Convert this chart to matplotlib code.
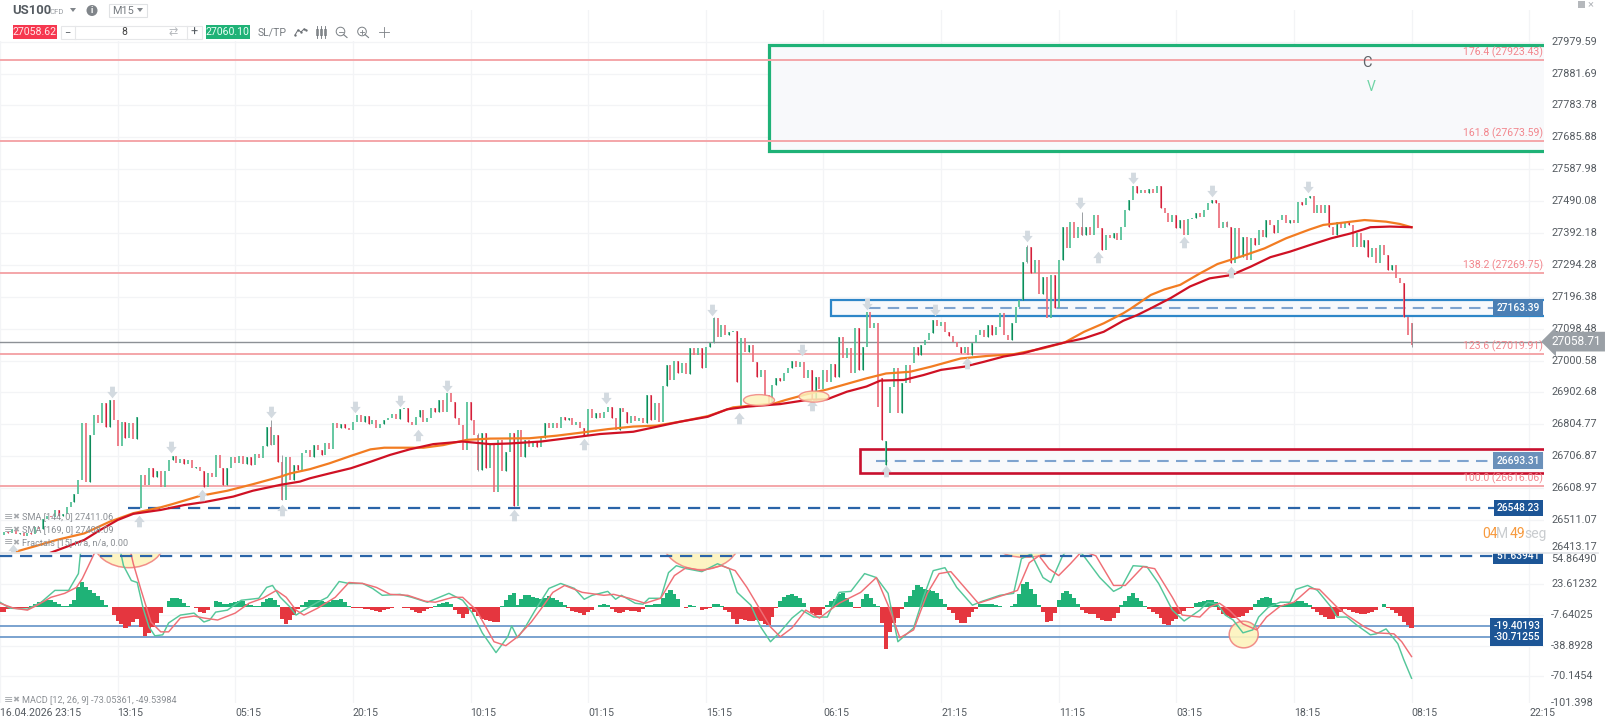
import matplotlib
matplotlib.use("Agg")
import matplotlib.pyplot as plt
import numpy as np
from matplotlib.patches import Ellipse, Rectangle, Polygon, Circle

plt.rcParams['font.family'] = ['Roboto', 'DejaVu Sans']

# closes sampled every second M15 bar
close_a = [26465, 26475, 26470, 26482, 26468, 26472, 26462, 26472, 26468, 26489, 26482, 26513,
           26523, 26519, 26542, 26523, 26530, 26550, 26567, 26591, 26634, 26808, 26629, 26772,
           26833, 26808, 26869, 26798, 26878, 26818, 26738, 26813, 26762, 26808, 26759, 26826,
           26649, 26619, 26670, 26644, 26660, 26613, 26660, 26695, 26708, 26687, 26697, 26683,
           26695, 26670, 26675, 26660, 26613, 26654, 26644, 26711, 26670, 26619, 26670, 26703,
           26687, 26708, 26683, 26703, 26680, 26714, 26700, 26738, 26798, 26741, 26772, 26690,
           26571, 26706, 26634, 26680, 26665]
close_b = [26716, 26726, 26706, 26741, 26726, 26711, 26746, 26728, 26810, 26793, 26806, 26793,
           26787, 26813, 26833, 26813, 26830, 26806, 26818, 26793, 26806, 26818, 26823, 26836,
           26820, 26851, 26854, 26813, 26803, 26828, 26849, 26813, 26823, 26854, 26844, 26880,
           26844, 26900, 26874, 26823, 26803, 26726, 26874, 26818, 26772, 26665, 26777, 26670,
           26741, 26598, 26757, 26660, 26721, 26777, 26554, 26787, 26706, 26757, 26736, 26755,
           26736, 26762, 26810, 26793, 26808, 26793, 26828, 26818, 26823, 26803, 26813, 26793,
           26772, 26851]
close_c = [26823, 26839, 26823, 26844, 26859, 26823, 26787, 26854, 26844, 26808, 26831, 26816,
           26823, 26808, 26895, 26818, 26869, 26813, 26921, 26987, 26941, 27000, 26961, 26992,
           26959, 27038, 27018, 27038, 26977, 27043, 27056, 27130, 27074, 27110, 27079, 27089,
           27092, 26936, 27069, 27028, 27048, 26997, 26951, 26972, 26895, 26869, 26926, 26946,
           26939, 26961, 26977, 27000, 26980, 26997, 26946, 26972, 26880, 26951, 26912, 26972,
           26936, 26990, 26949, 27074, 27008, 27038, 26961, 27100, 26972, 27043, 27151, 27100,
           27115, 26859]
close_d = [26757, 26755, 26920, 26977, 26839, 26931, 26987, 26931, 27043, 27018, 27048, 27064,
           27084, 27125, 27107, 27120, 27089, 27076, 27059, 27043, 27023, 27043, 27018, 27054,
           27079, 27095, 27074, 27110, 27079, 27105, 27146, 27079, 27064, 27115, 27166, 27187,
           27304, 27348, 27268, 27309, 27205, 27258, 27130, 27263, 27161, 27309, 27412, 27345,
           27427, 27376, 27412, 27386, 27412, 27386, 27448, 27407, 27340, 27386, 27376, 27391,
           27371, 27412, 27463, 27494, 27537, 27514, 27524, 27514, 27526, 27516, 27535]
close_e = [27468, 27453, 27427, 27448, 27407, 27432, 27386, 27434, 27437, 27453, 27442, 27463,
           27483, 27494, 27483, 27407, 27427, 27412, 27299, 27407, 27320, 27381, 27309, 27376,
           27355, 27401, 27381, 27432, 27417, 27391, 27432, 27448, 27422, 27432, 27422, 27488,
           27478, 27499, 27506, 27453, 27478, 27453, 27478, 27412, 27386, 27427, 27407, 27427,
           27417, 27350, 27391, 27350, 27371, 27320, 27345, 27299, 27355, 27325, 27279, 27294,
           27253, 27238, 27135, 27079, 27048]
bar_close = close_a + close_b + close_c + close_d + close_e

# bars whose open does not sit on the previous close
gap_bars = [36, 189, 225, 226, 227, 233, 360]
gap_opens = [26547, 26859, 26946, 26680, 26839, 26992, 27117]
wick_bars = [69, 72, 122, 182, 262, 276, 313, 360]
wick_highs = [26818, 26711, 26777, 27133, 27355, 27458, 27430, 27117]
wick_lows = [26741, 26571, 26660, 27056, 27300, 27386, 27412, 27043]

sma144_x = [7, 17, 29, 43, 56, 68, 82, 88, 102, 116, 129, 143, 148, 158, 168, 179, 189, 196, 216, 226, 238,
            250, 270, 284, 296, 310, 323, 335, 347, 361, 374, 395, 401, 412, 422, 432, 442, 452, 464, 475,
            490, 504, 517, 532, 543, 553, 563, 573, 577, 587, 594, 602, 612, 621, 634, 645, 656, 668, 675,
            685, 696, 707, 714, 720]
sma144_y = [26412, 26429, 26450, 26470, 26506, 26532, 26550, 26560, 26585, 26601, 26621, 26644, 26654, 26667,
            26685, 26708, 26728, 26733, 26733, 26741, 26757, 26761, 26762, 26770, 26779, 26790, 26798, 26801,
            26813, 26830, 26857, 26869, 26880, 26898, 26912, 26929, 26946, 26961, 26966, 26982, 27007, 27015,
            27020, 27038, 27056, 27089, 27115, 27146, 27161, 27202, 27219, 27233, 27268, 27297, 27322, 27345,
            27376, 27403, 27417, 27424, 27432, 27427, 27420, 27410]
sma169_x = [26, 34, 43, 51, 60, 68, 82, 94, 105, 119, 129, 143, 153, 158, 168, 179, 189, 199, 209, 221, 236,
            250, 260, 276, 293, 306, 323, 337, 347, 361, 371, 381, 398, 412, 422, 432, 442, 449, 461, 471,
            480, 492, 502, 512, 522, 532, 543, 553, 563, 573, 580, 587, 597, 607, 617, 628, 638, 648, 658,
            668, 679, 689, 699, 709, 720]
sma169_y = [26411, 26429, 26450, 26480, 26511, 26530, 26542, 26557, 26567, 26583, 26601, 26619, 26629, 26639,
            26654, 26670, 26690, 26711, 26728, 26744, 26752, 26744, 26746, 26752, 26765, 26775, 26782, 26800,
            26813, 26828, 26851, 26859, 26867, 26880, 26882, 26905, 26921, 26939, 26941, 26956, 26972, 26982,
            26997, 27013, 27023, 27040, 27056, 27069, 27089, 27123, 27140, 27161, 27192, 27228, 27253, 27263,
            27289, 27318, 27335, 27355, 27376, 27391, 27410, 27412, 27410]

fract_down_x = [57, 87, 138, 181, 204, 228, 309, 363, 409, 442, 477, 524, 551, 578, 618, 667]
fract_down_y = [26905, 26734, 26844, 26858, 26877, 26923, 26886, 27156, 27033, 27174, 27156, 27384, 27484,
                27561, 27521, 27534]
fract_up_x = [6.5, 71, 103, 144, 213, 262, 298, 377, 414, 452, 493, 560, 604, 628]
fract_up_y = [26419, 26509, 26588, 26542, 26772, 26527, 26744, 26824, 26864, 26660, 26993, 27319, 27366, 27274]

fib_levels = [27923.43, 27673.59, 27269.75, 27019.91, 26616.06]
fib_labels = ['176.4 (27923.43)', '161.8 (27673.59)', '138.2 (27269.75)', '123.6 (27019.91)', '100.0 (26616.06)']

price_ticks = [27979.59, 27881.69, 27783.78, 27685.88, 27587.98, 27490.08, 27392.18, 27294.28, 27196.38,
               27098.48, 27000.58, 26902.68, 26804.77, 26706.87, 26608.97, 26511.07, 26413.17]
macd_ticks = [54.86490, 23.61232, -7.64025, -38.8928, -70.1454, -101.398]
macd_tick_labels = ['54.86490', '23.61232', '-7.64025', '-38.8928', '-70.1454', '-101.398']
time_labels = ['16.04.2026 23:15', '13:15', '05:15', '20:15', '10:15', '01:15', '15:15', '06:15', '21:15',
               '11:15', '03:15', '18:15', '08:15', '22:15']

macd_hist = [-5, -5, -2, -1, -1, -1, -1, -1, 1, 3, 5, 6, 7, 7, 5, 3, 1, 1, 3, 7, 20, 25, 20, 17, 14, 11, 7, 2, 0,
             -8, -14, -17, -21, -19, -15, -12, -20, -29, -26, -20, -16, -6, 0, 6, 9, 9, 8, 4, 1, 0, -1, -5, -6,
             -3, 0, 6, 5, 3, 3, 4, 5, 6, 6, 3, 2, 1, 1, 5, 8, 9, 7, 2, -12, -17, -13, -8, -2, 2, 5, 7, 7, 7, 6,
             5, 5, 7, 7, 8, 5, 1, -1, -1, -1, -2, -2, -3, -4, -5, -3, -2, -1, 0, 0, -1, -1, -3, -5, -6, -4, -2,
             -1, 1, 3, 4, 5, 3, -3, -7, -11, -7, -2, -5, -9, -12, -13, -14, -15, -15, 1, 7, 12, 14, 2, 8, 12, 12,
             10, 9, 8, 9, 11, 9, 7, 5, 2, -1, -4, -5, -6, -8, -5, -3, 0, 2, 3, 2, -2, -5, -6, -5, -3, -4, -4, -5,
             -2, 2, 2, 3, 3, 9, 14, 17, 13, 8, 0, -1, 2, 1, 0, -3, -2, -1, 3, 3, 1, -3, -5, -12, -17, -12, -13,
             -14, -14, -13, -14, -17, -18, -10, -1, 6, 10, 12, 13, 11, 9, 4, 0, -6, -8, -8, -2, 2, 6, 8, 13, 14,
             9, 5, -1, -1, 8, 13, 9, 3, 1, -16, -42, -25, -16, -11, -2, 5, 11, 17, 22, 20, 18, 17, 16, 14, 8, 3,
             -3, -6, -13, -16, -16, -10, -5, -2, 3, 3, 3, 3, 2, 1, 0, 0, 1, 3, 13, 23, 25, 18, 13, 2, -5, -15,
             -14, -6, 7, 14, 16, 13, 9, 3, -3, -6, -7, -7, -11, -13, -14, -14, -11, -6, 2, 6, 11, 14, 9, 6, 1,
             -2, -5, -7, -11, -17, -18, -14, -12, -7, -4, -1, -1, 4, 5, 6, 7, 7, 5, -3, -7, -9, -11, -11, -10,
             -9, -6, -3, 3, 7, 9, 10, 9, 4, 2, 2, 3, 4, 5, 6, 6, 4, 2, -2, -5, -8, -10, -12, -12, -9, -5, -2, -3,
             -5, -6, -7, -7, -6, -5, -3, 0, 3, -1, -3, -6, -9, -15, -18, -21]

macd_fast_x = [0, 5, 14, 21, 28, 35, 40, 41, 46, 60, 62.5, 63, 67, 70, 73, 76, 79, 83, 86, 92, 99, 104, 107, 110,
               116, 123, 132, 136, 139, 143, 148, 151, 155, 162, 167, 173, 178, 185, 190, 195, 204, 210, 218,
               229, 236, 241, 246, 253, 259, 261, 264, 268, 273, 280, 286, 293, 298, 302, 310, 314, 317, 324,
               328, 331, 337, 341, 345, 350, 358, 366, 372, 376, 383, 388, 393, 398, 404, 409, 415, 422, 428,
               434, 441, 447, 453, 458, 466, 471, 476, 482, 488, 496, 501, 510, 517, 521, 526, 532, 536, 542,
               544, 552, 561, 568, 572, 578, 585, 591, 598, 604, 612, 616, 621, 625, 629, 634, 639, 642, 647,
               653, 658, 661, 667, 672, 679, 682, 687, 692, 699, 702, 707, 713, 716, 720]
macd_fast_y = [5, -1, -2, 5, 17, 17, 34, 54, 70, 70, 47, 42, 27, 25, -1, -20, -29, -28, -16, -8, -6, -15, -13, -5,
               -3, 7, 9, 20, 22, 10, 0, -8, -3, 5, 10, 26, 24, 24, 19, 12, 13, 10, 5, 14, 7, -6, -26, -46, -30,
               -19, -31, -20, -3, 19, 24, 19, 8, 12, 16, 8, 12, 4, 3, 9, 9, 35, 42, 39, 36, 44, 39, 15, 2, -20,
               -35, -25, -11, -3, -10, -10, 15, 16, 34, 30, 14, -35, -21, 10, 37, 40, 20, 2, 6, 12, 14, 49, 54,
               30, 25, 52, 57, 54, 30, 16, 20, 42, 41, 24, -3, -14, -3, 5, 3, -8, -13, -26, -23, -10, 0, 5, 5,
               18, 22, 17, 0, -10, -10, -18, -28, -27, -22, -37, -53, -72]
macd_signal_x = [0, 7, 14, 19, 26, 33, 39, 42, 48, 53, 65, 68, 72, 77, 82, 86, 92, 99, 104, 111, 120, 127, 134,
                 141, 146, 151, 155, 162, 171, 178, 185, 192, 199, 208, 217, 222, 231, 236, 243, 252, 258, 264,
                 271, 275.5, 282, 288, 297, 308, 313, 321, 329, 337, 344, 350, 358, 368, 375, 381, 387, 393, 398,
                 404, 411, 418, 428, 439, 447, 453, 459, 466, 473, 479, 485, 492, 499, 510, 519, 525, 530, 535,
                 540, 546, 552, 559, 568, 574, 583, 589, 598, 603, 612, 617, 622, 627, 634, 641, 646, 653, 660,
                 668, 673, 682, 687, 696, 702, 711, 715, 720]
macd_signal_y = [4, -1, -3, 2, 10, 14, 20, 29, 54, 70, 70, 44, 17, -15, -25, -25, -11, -9, -11, -13, -6, 4, 9, 17,
                 10, -3, -8, -1, 10, 25, 24, 20, 13, 12, 6, 5, 10, 10, -3, -35, -39, -30, -15, -3, 15, 22, 15, 12,
                 13, 9, 4, 9, 32, 40, 37, 42, 37, 20, 0, -20, -30, -21, -3, -11, 4, 15, 30, 2, -31, -23, 14, 34,
                 36, 20, 4, 11, 17, 45, 52, 39, 32, 44, 57, 52, 22, 22, 41, 39, 10, -8, -10, 0, 4, -3, -17, -23,
                 -10, 1, 5, 19, 18, 0, -8, -20, -26, -27, -35, -50]

GREEN = '#1fb277'
RED = '#e5363f'
FIB = '#f4a6a9'
GRID = '#f3f4f6'
PX = 1544 / (60 * 13.126)  # one bar in pixels

fig = plt.figure(figsize=(16.14, 7.24), dpi=100, facecolor='white')
ax_price = fig.add_axes([0, (724 - 553) / 724, 1544 / 1614, (553 - 10) / 724])
ax_macd = fig.add_axes([0, (724 - 703) / 724, 1544 / 1614, 150 / 724])
x_max = 60 * 13.126

ax_price.set_xlim(0, x_max)
ax_price.set_ylim(26409.75, 28076.9)
ax_macd.set_xlim(0, x_max)
ax_macd.set_ylim(-97.05, 54.15)

for ax in (ax_price, ax_macd):
    for s in ax.spines.values():
        s.set_visible(False)
    ax.set_xticks(np.arange(len(time_labels)) * 60)
    ax.grid(True, color=GRID, lw=0.9)
    ax.set_axisbelow(True)
    ax.tick_params(length=0, labelleft=False, labelbottom=False)
ax_price.set_yticks(price_ticks)
ax_macd.set_yticks(macd_ticks[:5])

# zones behind the candles
ax_price.add_patch(Rectangle((769 / PX, 27645), 2000, 27968.6 - 27645, fc='#f8f9fb', ec=GREEN, lw=2.3, zorder=1))
ax_price.add_patch(Rectangle((831 / PX, 27137.5), 2000, 48.2, fc='#f7f9fc', ec='#2d86c8', lw=1.6, zorder=1))
ax_price.add_patch(Rectangle((860 / PX, 26655), 2000, 73, fc='#f8f9fb', ec='#c8102e', lw=1.9, zorder=1))

for lvl, lab in zip(fib_levels, fib_labels):
    ax_price.axhline(lvl, color=FIB, lw=1.4, zorder=2)
    ax_price.annotate(lab, xy=(1, lvl), xycoords=ax_price.get_yaxis_transform(), xytext=(-1, 2),
                      textcoords='offset pixels', ha='right', va='bottom', color='#f2868d', fontsize=7.6, zorder=8)
ax_price.axhline(27058.71, color='#8d9196', lw=1, zorder=2)

dash = (0, (5.5, 3.5))
ax_price.hlines(27163.39, 869 / PX, 1500 / PX, color='#7ea3cf', lw=1.5, linestyles=[dash], zorder=3)
ax_price.hlines(26693.31, 876 / PX, 1495 / PX, color='#7ea3cf', lw=1.5, linestyles=[dash], zorder=3)
ax_price.hlines(26548.23, 128 / PX, 1497 / PX, color='#2a64a8', lw=1.6, linestyles=[dash], zorder=3)
ax_macd.hlines(51.63941, 0, 1497 / PX, color='#2a64a8', lw=1.6, linestyles=[dash], zorder=6)
ax_macd.hlines([-19.40193, -30.71255], 0, 1497 / PX, color='#6f9bcb', lw=1.3, zorder=2)

# candles
closes = np.array(bar_close, dtype=float)
opens = np.r_[closes[0], closes[:-1]]
opens[gap_bars] = gap_opens
bar_x = np.arange(len(closes)) * 2
up = closes >= opens
ax_price.vlines(bar_x[up], opens[up], closes[up], color='#52c095', lw=1.25, zorder=4)
ax_price.vlines(bar_x[~up], closes[~up], opens[~up], color='#ec6f7c', lw=1.25, zorder=4)
ax_price.vlines(bar_x[up][::3], opens[up][::3], closes[up][::3], color='#0f8a5a', lw=0.8, zorder=4)
ax_price.vlines(bar_x[~up][::3], closes[~up][::3], opens[~up][::3], color='#d21f3c', lw=0.8, zorder=4)
wick_x = np.array(wick_bars) * 2
ax_price.vlines(wick_x, wick_lows, wick_highs, color='#8a8f94', lw=0.6, zorder=4)

ax_price.plot(sma144_x, sma144_y, color='#f27c22', lw=1.6, zorder=5)
ax_price.plot(sma169_x, sma169_y, color='#cf1124', lw=1.6, zorder=5)

arrow_down = [(-0.42, 1), (0.42, 1), (0.42, 0.1), (0.9, 0.1), (0, -1), (-0.9, 0.1), (-0.42, 0.1), (-0.42, 1)]
arrow_up = [(x, -y) for x, y in arrow_down]
ax_price.scatter(fract_down_x, fract_down_y, marker=arrow_down, s=70, color='#d3dae0', lw=0, zorder=6)
ax_price.scatter(fract_up_x, fract_up_y, marker=arrow_up, s=70, color='#d3dae0', lw=0, zorder=6)

ax_price.add_patch(Ellipse((759 / PX, 26879), 31 / PX, 34, fc='#fdf3bd', ec='#f0837f', lw=1, alpha=0.85, zorder=6))
ax_price.add_patch(Ellipse((814 / PX, 26890), 30 / PX, 34, fc='#fdf3bd', ec='#f0837f', lw=1, alpha=0.85, zorder=6))

ax_price.text(697, 27914, 'C', color='#5f6368', fontsize=10.5, ha='center', va='center', zorder=7)
ax_price.text(699.5, 27840, 'V', color='#6fd4a5', fontsize=10, ha='center', va='center', zorder=7)

# macd pane
ax_macd.add_patch(Ellipse((129 / PX, 68), 72 / PX, 56, fc='#fdf3bd', ec='#f0837f', lw=1.1, alpha=0.9, zorder=1))
ax_macd.add_patch(Ellipse((701 / PX, 69), 78 / PX, 62, fc='#fdf3bd', ec='#f0837f', lw=1.1, alpha=0.9, zorder=1))
ax_macd.add_patch(Ellipse((1025 / PX, 59), 50 / PX, 17, fc='#fdf3bd', ec='#f0837f', lw=1.1, alpha=0.9, zorder=1))
ax_macd.add_patch(Ellipse((1243.7 / PX, -27.7), 29 / PX, 27, fc='#fdf3bd', ec='#f0837f', lw=1.1, alpha=0.9, zorder=3))

hist = np.array(macd_hist, dtype=float)
hist_x = np.arange(len(hist)) * 2
ax_macd.bar(hist_x, hist, width=2.1, color=[GREEN if v >= 0 else RED for v in hist], lw=0, zorder=3)
ax_macd.plot(macd_fast_x, macd_fast_y, color='#55c79a', lw=1.05, zorder=4)
ax_macd.plot(macd_signal_x, macd_signal_y, color='#ef6f76', lw=1.05, zorder=4)

# right scale labels
for t in price_ticks:
    dy = 5 if t == 26413.17 else 0
    ax_price.annotate(f'{t:.2f}', xy=(1, t), xycoords=ax_price.get_yaxis_transform(), xytext=(7, dy),
                      textcoords='offset pixels', ha='left', va='center', color='#555b61', fontsize=7.8,
                      annotation_clip=False)
for t, lab, dy in zip(macd_ticks, macd_tick_labels, [-6, 0, 0, 0, 0, 4]):
    ax_macd.annotate(lab, xy=(1, t), xycoords=ax_macd.get_yaxis_transform(), xytext=(7, dy),
                     textcoords='offset pixels', ha='left', va='center', color='#555b61', fontsize=7.8,
                     annotation_clip=False)


def value_tag(ax, val, txt, bg):
    ax.annotate(txt, xy=(1, val), xycoords=ax.get_yaxis_transform(), xytext=(-4, 0), textcoords='offset pixels',
                ha='right', va='center', color='white', fontsize=7.4, fontweight='medium', clip_on=True,
                annotation_clip=False, bbox=dict(boxstyle='square,pad=0.32', fc=bg, ec='none'), zorder=9)


value_tag(ax_price, 27163.39, '27163.39', '#4a7fb5')
value_tag(ax_price, 26693.31, '26693.31', '#6a90ba')
value_tag(ax_price, 26548.23, '26548.23', '#1c5596')
value_tag(ax_macd, 51.63941, '51.63941', '#1c5596')
value_tag(ax_macd, -19.40193, '-19.40193', '#1c5596')
value_tag(ax_macd, -30.71255, '-30.71255', '#1c5596')

ax_price.annotate('27058.71', xy=(1, 27058.71), xycoords=ax_price.get_yaxis_transform(), xytext=(8, 0),
                  textcoords='offset pixels', ha='left', va='center', color='white', fontsize=8.6,
                  annotation_clip=False, bbox=dict(boxstyle='larrow,pad=0.28', fc='#9aa0a6', ec='none'), zorder=9)

for i, lab in enumerate(time_labels):
    ax_macd.annotate(lab, xy=(i * 60, 0), xycoords=ax_macd.get_xaxis_transform(), xytext=(0, -5),
                     textcoords='offset pixels', ha='left', va='top', color='#555b61', fontsize=7.6,
                     annotation_clip=False)

# overlay in pixels for the platform chrome
ui = fig.add_axes([0, 0, 1, 1], facecolor='none', zorder=20)
ui.set_xlim(0, 1614)
ui.set_ylim(724, 0)
ui.axis('off')
ui.add_patch(Rectangle((0, 0), 398, 41, fc='white', ec='none'))
ui.plot([0, 1598], [553, 553], color='#e2e4e7', lw=1.2)

ui.text(12, 11, 'US100', color='#555b61', fontsize=9.4, fontweight='bold', va='center')
ui.text(49, 11.5, 'CFD', color='#9a9ea3', fontsize=5.6, va='center')
ui.add_patch(Polygon([(70, 8), (76, 8), (73, 12)], fc='#80858a', ec='none'))
ui.add_patch(Circle((92, 10.5), 5.5, fc='#80858a', ec='none'))
ui.text(92, 10.5, 'i', color='white', fontsize=6.5, fontweight='bold', ha='center', va='center')
ui.add_patch(Rectangle((108.5, 3.5), 38, 13, fc='white', ec='#e0e2e4', lw=0.8))
ui.text(112, 10.5, 'M15', color='#777c81', fontsize=7.8, va='center')
ui.add_patch(Polygon([(137, 8), (143, 8), (140, 12)], fc='#80858a', ec='none'))

ui.add_patch(Rectangle((12.5, 25), 44, 14, fc='#f6374f', ec='none'))
ui.text(34.5, 32, '27058.62', color='#ffe6e8', fontsize=7.6, ha='center', va='center')
ui.add_patch(Rectangle((60.5, 25.5), 141, 13, fc='white', ec='#e6e7e9', lw=0.8))
ui.plot([75, 75], [25.5, 38.5], color='#e6e7e9', lw=0.8)
ui.plot([187, 187], [25.5, 38.5], color='#e6e7e9', lw=0.8)
ui.text(67.5, 32, '\u2212', color='#555b61', fontsize=8, ha='center', va='center')
ui.text(124, 32, '8', color='#444', fontsize=7.5, ha='center', va='center')
ui.text(173, 32, '\u21c4', color='#b5b8bc', fontsize=8, ha='center', va='center')
ui.text(194, 32, '+', color='#555b61', fontsize=9, ha='center', va='center')
ui.add_patch(Rectangle((205.5, 25), 44, 14, fc='#1fb277', ec='none'))
ui.text(227.5, 32, '27060.10', color='#e9fff5', fontsize=7.6, ha='center', va='center')
ui.text(258, 32, 'SL/TP', color='#777c81', fontsize=7.6, va='center')

ui.plot([295, 298, 301, 304, 306], [35, 30, 32, 29, 30], color='#6b7075', lw=0.7, marker='.', ms=1.4)
for x in (317, 321, 325):
    ui.plot([x, x], [26, 38], color='#6b7075', lw=0.6)
    ui.add_patch(Rectangle((x - 1, 29), 2, 6, fc='white', ec='#6b7075', lw=0.5))
for cx, plus in ((340.5, False), (362, True)):
    ui.add_patch(Circle((cx, 31.5), 4.3, fc='none', ec='#7b8085', lw=0.7))
    ui.plot([cx + 3, cx + 6.5], [34.5, 37.5], color='#7b8085', lw=0.8)
    ui.plot([cx - 2, cx + 2], [31.5, 31.5], color='#7b8085', lw=0.6)
    if plus:
        ui.plot([cx, cx], [29.5, 33.5], color='#7b8085', lw=0.6)
ui.plot([379, 389], [32, 32], color='#7b8085', lw=0.6)
ui.plot([384, 384], [27, 37], color='#7b8085', lw=0.6)
ui.add_patch(Rectangle((1578, 0.5), 7, 7, fc='#b5b8bc', ec='none'))
ui.text(1591, 4, '\u00d7', color='#b5b8bc', fontsize=8, ha='center', va='center')

# indicator captions
captions = [(517, 'SMA [144, 0] 27411.06'), (530, 'SMA [169, 0] 27408.09'),
            (542.5, 'Fractals [15] n/a, n/a, 0.00'), (700, 'MACD [12, 26, 9] -73.05361, -49.53984')]
for y, lab in captions:
    ui.text(4, y, '\u2261', color='#a6a9ad', fontsize=8, va='center')
    ui.text(12, y, '\u2716', color='#a6a9ad', fontsize=6, va='center', family='DejaVu Sans')
    ui.text(22, y, lab, color='#8b8f94', fontsize=6.6, va='center')

# candle countdown
for x, lab, col in [(1482, '04', '#f79a3e'), (1496, 'M', '#c9cccf'), (1510, '49', '#f79a3e'), (1524, 'seg', '#c9cccf')]:
    ui.text(x, 534, lab, color=col, fontsize=10, va='center')

fig.savefig('out.png', dpi=100, facecolor='white')
